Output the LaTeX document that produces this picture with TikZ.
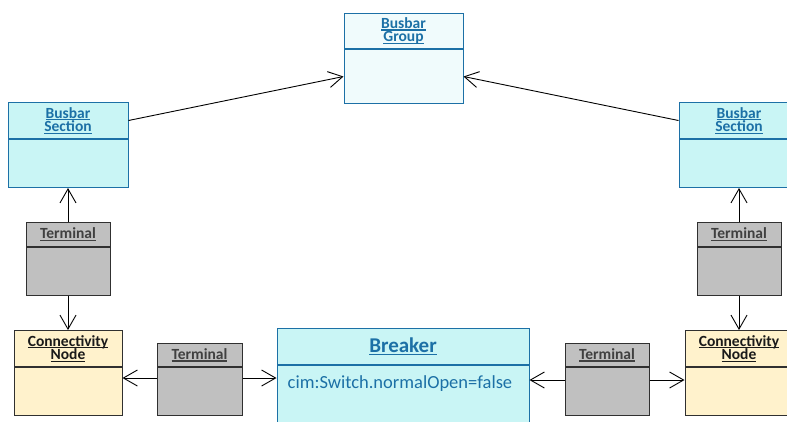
\documentclass[tikz,border=0pt]{standalone}
\usepackage{fontspec}
\setmainfont{Carlito}
\usetikzlibrary{arrows.meta,positioning}

\definecolor{umlblue}{HTML}{1C70A6}
\definecolor{grpfill}{HTML}{F0FBFC}
\definecolor{secfill}{HTML}{C9F5F5}
\definecolor{termfill}{HTML}{C0C0C0}
\definecolor{termline}{HTML}{303030}
\definecolor{termtext}{HTML}{404040}
\definecolor{cnfill}{HTML}{FFF2CC}
\definecolor{cnline}{HTML}{303030}
\definecolor{cntext}{HTML}{1A1A1A}

\newcommand{\uln}[1]{\setbox0\hbox{#1}\rlap{\rule[-2.3pt]{\wd0}{1.3pt}}\box0}
\newcommand{\titlefont}{\bfseries\fontsize{15.5}{13.5}\selectfont}

\begin{document}
\begin{tikzpicture}[x=1pt,y=-1pt,
    cls/.style={draw, line width=1pt, inner sep=0pt, align=center, anchor=north, font=\titlefont},
    bus/.style={cls, draw=umlblue, text=umlblue},
    term/.style={cls, draw=termline, fill=termfill, text=termtext, minimum width=84pt},
    conn/.style={cls, draw=cnline, fill=cnfill, text=cntext, minimum width=108pt},
    assoc/.style={-{Straight Barb[length=14pt,width=16pt]}, line width=0.9pt}]
    \useasboundingbox (0,0) rectangle (787,421);
    \clip (0,0) rectangle (787,421);

    \node[bus, fill=grpfill, minimum width=119pt, minimum height=35pt] (BG) at (403.5,13) {\uln{Busbar}\\\uln{Group}};
    \node[bus, fill=grpfill, minimum width=119pt, minimum height=54pt] (BG1) at (BG.south) {};

    \node[bus, fill=secfill, minimum width=120pt, minimum height=36pt] (BSL) at (68,102) {\uln{Busbar}\\\uln{Section}};
    \node[bus, fill=secfill, minimum width=120pt, minimum height=48pt] (BSL1) at (BSL.south) {};
    \node[bus, fill=secfill, minimum width=120pt, minimum height=36pt] (BSR) at (739,102) {\uln{Busbar}\\\uln{Section}};
    \node[bus, fill=secfill, minimum width=120pt, minimum height=48pt] (BSR1) at (BSR.south) {};

    \node[term, minimum height=24pt] (TTL) at (68,222) {\uln{Terminal}};
    \node[term, minimum height=48pt] (TTL1) at (TTL.south) {};
    \node[term, minimum height=24pt] (TTR) at (739,222) {\uln{Terminal}};
    \node[term, minimum height=48pt] (TTR1) at (TTR.south) {};

    \node[conn, minimum height=36pt] (CNL) at (68,330) {\uln{Connectivity}\\\uln{Node}};
    \node[conn, minimum height=48pt] (CNL1) at (CNL.south) {};
    \node[conn, minimum height=36pt] (CNR) at (739,330) {\uln{Connectivity}\\\uln{Node}};
    \node[conn, minimum height=48pt] (CNR1) at (CNR.south) {};

    \node[term, minimum width=85pt, minimum height=23pt] (TBL) at (199.5,343) {\uln{Terminal}};
    \node[term, minimum width=85pt, minimum height=48pt] (TBL1) at (TBL.south) {};
    \node[term, minimum height=23pt] (TBR) at (607,343) {\uln{Terminal}};
    \node[term, minimum height=48pt] (TBR1) at (TBR.south) {};

    \node[bus, fill=secfill, minimum width=252pt, minimum height=36pt, font=\bfseries\fontsize{21}{24}\selectfont] (BRK) at (403,328) {\uln{Breaker}};
    \node[bus, fill=secfill, minimum width=252pt, minimum height=80pt] (BRK1) at (BRK.south) {};
    \node[anchor=base west, inner sep=0pt, xshift=11pt, yshift=-23pt, text=umlblue, font=\fontsize{18.5}{20}\selectfont] (BRK2) at (BRK1.north west) {cim:Switch.normalOpen=false};

    \coordinate (JL) at (0,378);
    \coordinate (JR) at (0,380);

    \path[assoc] (BSL.east) edge (BG1.west)
    (BSR.west) edge (BG1.east)
    (TTL.north) edge (BSL1.south)
    (TTL1.south) edge (CNL.north)
    (TTR.north) edge (BSR1.south)
    (TTR1.south) edge (CNR.north)
    (TBL1.west |- JL) edge (CNL1.east |- JL)
    (TBL1.east |- JL) edge (BRK1.west |- JL)
    (TBR1.west |- JR) edge (BRK1.east |- JR)
    (TBR1.east |- JR) edge (CNR1.west |- JR);
\end{tikzpicture}
\end{document}
